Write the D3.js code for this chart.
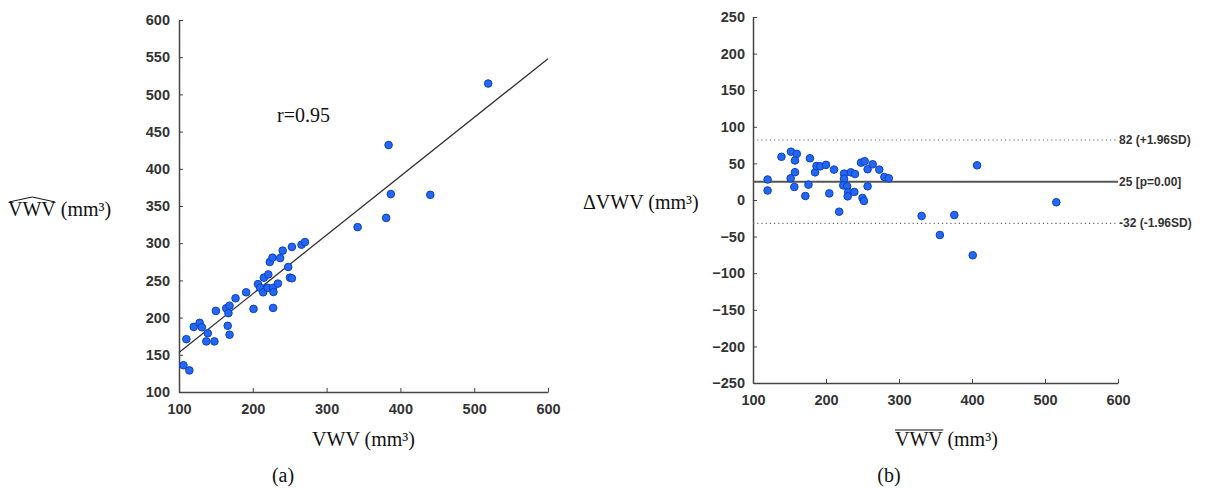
<!DOCTYPE html>
<html><head><meta charset="utf-8">
<script src="https://cdn.jsdelivr.net/npm/d3@7"></script>
<style>
body{margin:0;background:#fff;}
svg{display:block;}
.tick text{font-family:"Liberation Sans",Arial,sans-serif;font-weight:bold;font-size:14.5px;fill:#333;}
.serif{font-family:"Liberation Serif","Times New Roman",serif;font-size:20px;fill:#111;}
</style></head>
<body><svg id="c" width="1206" height="490"></svg>
<script>
// ---- Data ----
const vwvA = [106,114,110,120,128,131,139,137,148,150,166,168.5,164,168.5,167,176.6,191,201,207,210,214,215,221,223,226.6,220,227.5,228,227.5,234,237,240.5,248,250.4,253,253,266,270.7,342,380.7,384,387,440.5,519];
const vwvHatA = [136,129,171,187.5,193,187,179,168,168,209,189,177,212.6,216,206,226,234,211.7,245,240,234,253.7,258,274.7,280.6,240,240,234.4,213,245.7,280,290,268,253.7,252.8,295,298,301.5,321.6,334,432,366,365,514.6];
const fitIntercept = [74];
const fitSlope = [0.79];
const fitRange = [100, 600];
const rLabel = "r=0.95";

const meanB = [120,120,139,152,160,157.5,157.5,151.6,156.6,171.7,178,176,185,187,192,200,204.5,211,218,224.7,224.7,223.7,229,230.5,229.7,234,238.8,239.7,248,253,250,252,257,257,264,273,280,286,331,356,375.8,407,515.5,401];
const diffB = [28,13,59,66,63,54,38,29.6,17.8,5.5,57,21,37.8,46.5,46,48,9,41.5,-16,36,29,20,18.7,11,5,37.8,11,35.5,51,53,2.7,-1.4,42,18.7,48.8,41.5,31.4,29.6,-21.8,-47.8,-20.5,47.4,-3.1,-75.5];
const blLines = [82, 25, -32];
const blLabels = ["82 (+1.96SD)", "25 [p=0.00]", "-32 (-1.96SD)"];

const xTicks = [100,200,300,400,500,600];
const yTicksA = [100,150,200,250,300,350,400,450,500,550,600];
const yTicksB = [-250,-200,-150,-100,-50,0,50,100,150,200,250];

// ---- Drawing ----
const svg = d3.select("#c");
const axisColor = "#444";
const ptFill = "#2468f2", ptStroke = "#0c3fc4";

function styleAxis(g){
  g.select(".domain").attr("stroke", axisColor).attr("stroke-width", 1.5);
  g.selectAll(".tick line").attr("stroke", axisColor);
}

// Panel (a)
const xA = d3.scaleLinear().domain([100,600]).range([179,548]);
const yA = d3.scaleLinear().domain([100,600]).range([392,20]);

const gA = svg.append("g");
gA.append("g").attr("transform","translate(0,392)")
  .call(d3.axisBottom(xA).tickValues(xTicks).tickSize(-4).tickPadding(12).tickSizeOuter(0))
  .call(styleAxis);
gA.append("g").attr("transform","translate(179,0)")
  .call(d3.axisLeft(yA).tickValues(yTicksA).tickSize(-4).tickPadding(9).tickSizeOuter(0))
  .call(styleAxis);

gA.append("line")
  .attr("x1", xA(fitRange[0])).attr("y1", yA(fitIntercept[0] + fitSlope[0]*fitRange[0]))
  .attr("x2", xA(fitRange[1])).attr("y2", yA(fitIntercept[0] + fitSlope[0]*fitRange[1]))
  .attr("stroke","#333").attr("stroke-width",1.3);

gA.selectAll("circle.p").data(vwvA).enter().append("circle")
  .attr("cx",(d)=>xA(d)).attr("cy",(d,i)=>yA(vwvHatA[i])).attr("r",3.8)
  .attr("fill",ptFill).attr("stroke",ptStroke).attr("stroke-width",1);

gA.append("text").attr("class","serif").attr("x",277).attr("y",122).text(rLabel);

// y label with wide hat
const yLabA = gA.append("text").attr("class","serif").attr("x",8).attr("y",216);
const hatT = yLabA.append("tspan").text("VWV");
yLabA.append("tspan").text("\u00a0(mm\u00b3)");
{
  const b = hatT.node().getBBox();
  const top = b.y + 4;
  gA.append("path")
    .attr("d", `M${b.x+1},${top} L${b.x+b.width/2},${top-5} L${b.x+b.width-1},${top}`)
    .attr("fill","none").attr("stroke","#111").attr("stroke-width",1);
}
gA.append("text").attr("class","serif").attr("x",xA(350)).attr("y",446)
  .attr("text-anchor","middle").text("VWV (mm\u00b3)");
gA.append("text").attr("class","serif").attr("x",283).attr("y",482)
  .attr("text-anchor","middle").text("(a)");

// Panel (b)
const xB = d3.scaleLinear().domain([100,600]).range([753,1118]);
const yB = d3.scaleLinear().domain([-250,250]).range([383,17]);
const gB = svg.append("g");
gB.append("g").attr("transform","translate(0,383)")
  .call(d3.axisBottom(xB).tickValues(xTicks).tickSize(-4).tickPadding(12).tickSizeOuter(0))
  .call(styleAxis);
gB.append("g").attr("transform","translate(753,0)")
  .call(d3.axisLeft(yB).tickValues(yTicksB).tickSize(-4).tickPadding(8).tickSizeOuter(0))
  .call(styleAxis);

gB.selectAll("line.bl").data(blLines).enter().append("line")
  .attr("x1", xB(100)).attr("x2", xB(600))
  .attr("y1", d=>yB(d)).attr("y2", d=>yB(d))
  .attr("stroke", (d,i)=> i===1 ? "#555" : "#666")
  .attr("stroke-width", (d,i)=> i===1 ? 2 : 1.2)
  .attr("stroke-dasharray", (d,i)=> i===1 ? null : "1.2,3");

gB.selectAll("text.bl").data(blLines).enter().append("text")
  .attr("x", xB(600)+1).attr("y", d=>yB(d)+4)
  .style("font-family","Liberation Sans,Arial,sans-serif").style("font-weight","bold")
  .style("font-size","12px").style("fill","#333")
  .text((d,i)=>blLabels[i]);

gB.selectAll("circle.p").data(meanB).enter().append("circle")
  .attr("cx",(d)=>xB(d)).attr("cy",(d,i)=>yB(diffB[i])).attr("r",3.8)
  .attr("fill",ptFill).attr("stroke",ptStroke).attr("stroke-width",1);

gB.append("text").attr("class","serif").attr("x",583).attr("y",209).text("\u0394VWV (mm\u00b3)");

const xLabB = gB.append("text").attr("class","serif").attr("x",895).attr("y",446);
const barT = xLabB.append("tspan").text("VWV");
xLabB.append("tspan").text(" (mm\u00b3)");
{
  const b = barT.node().getBBox();
  gB.append("line").attr("x1",b.x).attr("x2",b.x+b.width)
    .attr("y1",b.y+2).attr("y2",b.y+2).attr("stroke","#111").attr("stroke-width",1);
}
gB.append("text").attr("class","serif").attr("x",889).attr("y",482)
  .attr("text-anchor","middle").text("(b)");
</script></body></html>
